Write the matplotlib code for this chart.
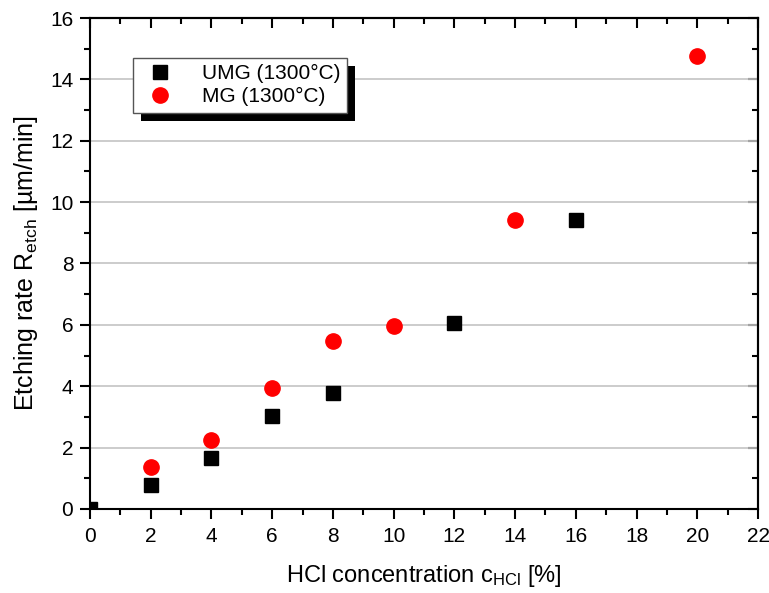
import matplotlib
matplotlib.use('Agg')
from matplotlib import pyplot as plt
from matplotlib.patches import Rectangle
from matplotlib.ticker import MultipleLocator

# data
umg_conc = [0, 2, 4, 6, 8, 12, 16]
umg_rate = [0.0, 0.78, 1.65, 3.03, 3.79, 6.05, 9.43]
mg_conc = [2, 4, 6, 8, 10, 14, 20]
mg_rate = [1.36, 2.25, 3.94, 5.49, 5.95, 9.43, 14.77]

plt.rcParams['font.family'] = ['Liberation Sans', 'DejaVu Sans']
plt.rcParams['mathtext.default'] = 'regular'

fig = plt.figure(figsize=(7.69, 5.93), dpi=100)
ax = fig.add_axes([0.117, 0.1417, 0.8687, 0.8279])

ax.plot(umg_conc, umg_rate, 's', color='black', markersize=10, label='UMG (1300°C)', zorder=3)
ax.plot(mg_conc, mg_rate, 'o', color='#ff0000', markersize=11, label='MG (1300°C)', zorder=3)

ax.set_xlim(0, 22)
ax.set_ylim(0, 16)
ax.grid(axis='y', which='major', color='#c4c4c4', linewidth=1.2)
ax.set_axisbelow(True)

for s in ax.spines.values():
    s.set_linewidth(1.5)

# origin style: outward ticks bottom/left, inward mirrored ticks top/right
top = ax.secondary_xaxis('top')
right = ax.secondary_yaxis('right')
for a in (ax.xaxis, ax.yaxis, top.xaxis, right.yaxis):
    a.set_major_locator(MultipleLocator(2))
    a.set_minor_locator(MultipleLocator(1))
for sec in (top, right):
    sec.tick_params(which='both', direction='in', width=1.5, labeltop=False,
                    labelright=False)
    sec.tick_params(which='major', length=7)
    sec.tick_params(which='minor', length=4)
    for s in sec.spines.values():
        s.set_linewidth(1.5)

ax.tick_params(which='both', direction='out', width=1.5)
ax.tick_params(which='major', length=7)
ax.tick_params(which='minor', length=4)
ax.tick_params(axis='both', labelsize=15)
ax.tick_params(axis='x', pad=6)
ax.tick_params(axis='y', pad=5)

ax.set_xlabel('HCl concentration c$_{HCl}$ [%]', fontsize=17, labelpad=12)
ax.set_ylabel('Etching rate R$_{etch}$ [µm/min]', fontsize=18, labelpad=7)

leg = ax.legend(loc='upper left', bbox_to_anchor=(0.0645, 0.919), borderaxespad=0,
                fontsize=15, fancybox=False, edgecolor='#555555', framealpha=1,
                handletextpad=1.0, borderpad=0.3, labelspacing=0.2,
                handlelength=2.0)
leg.get_frame().set_linewidth(1.0)
leg.set_zorder(6)

# black drop shadow behind the legend box
fig.canvas.draw()
bb = leg.get_window_extent().transformed(fig.transFigure.inverted())
dx, dy = 8 / fig.bbox.width, 8 / fig.bbox.height
ax.add_patch(Rectangle((bb.x0 + dx, bb.y0 - dy), bb.width, bb.height,
                       transform=fig.transFigure, facecolor='black',
                       edgecolor='none', zorder=5, clip_on=False))

fig.savefig('out.png', dpi=100)
